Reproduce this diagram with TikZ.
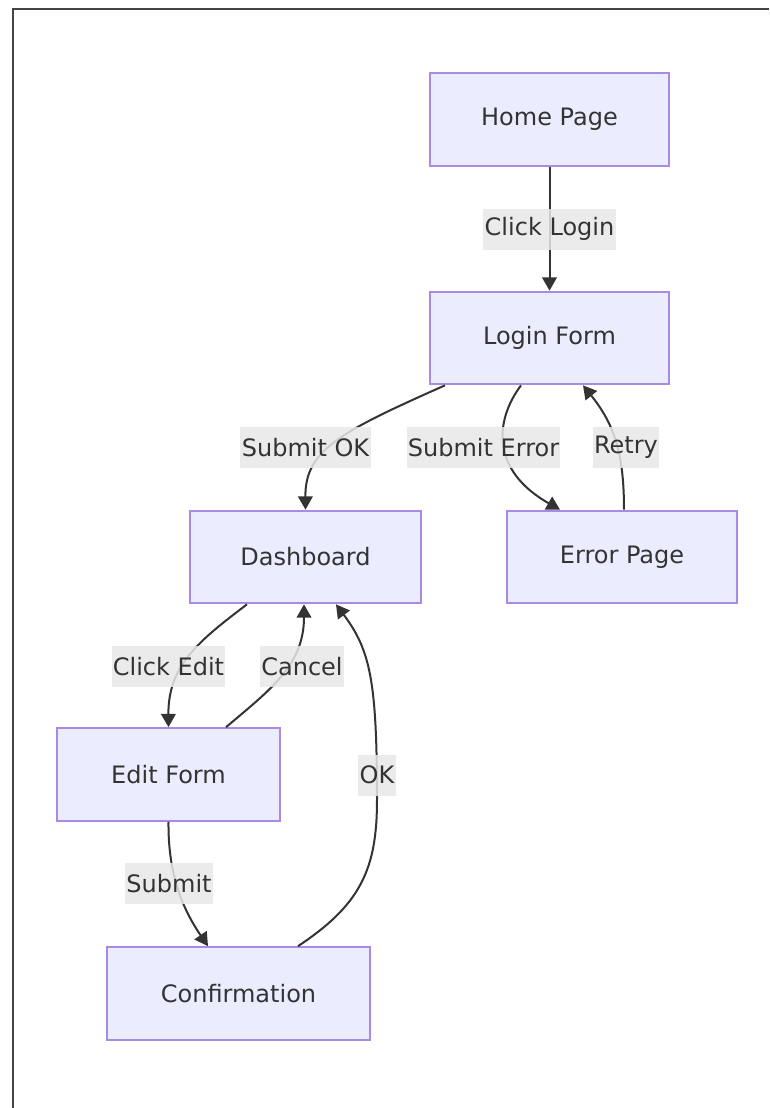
\documentclass[tikz,border=0pt]{standalone}
\usepackage{fontspec}
\setmainfont{DejaVu Sans}
\usetikzlibrary{arrows.meta,calc}
\definecolor{boxfill}{HTML}{ECECFF}
\definecolor{boxline}{HTML}{A98BE6}
\definecolor{ink}{HTML}{333333}
\definecolor{labbg}{HTML}{E8E8E8}
\definecolor{framecol}{HTML}{444444}
\begin{document}
\begin{tikzpicture}[x=0.75pt,y=-0.75pt,
  txt/.style={font=\fontsize{18}{21}\selectfont, text=ink},
  box/.style={txt, draw=boxline, fill=boxfill, line width=1.5pt, inner sep=0pt, minimum height=69.5pt},
  lab/.style={txt, fill=labbg, fill opacity=0.85, text opacity=1, inner xsep=1pt, inner ysep=0pt, minimum height=30.75pt},
  edge/.style={draw=ink, line width=1.5pt, -{Triangle[length=10pt,width=11pt]}},
  frameline/.style={draw=framecol, line width=1pt}]
\useasboundingbox (0,0) rectangle (769,1108);
\draw[frameline] (13,1108) -- (13,9) -- (769,9);

% nodes
\node[box, minimum width=239*0.75pt] (home) at (549.5,119.5) {Home Page};
\node[box, minimum width=239*0.75pt] (login) at (549.5,338) {Login Form};
\node[box, minimum width=231*0.75pt] (dash) at (305.5,557) {Dashboard};
\node[box, minimum width=230*0.75pt] (err) at (622,557) {Error Page};
\node[box, minimum width=223*0.75pt] (edit) at (168.5,774.5) {Edit Form};
\node[box, minimum width=263*0.75pt] (conf) at (238.5,993.5) {Confirmation};

% label centres
\coordinate (cLogin) at (549.5,229);
\coordinate (cSOK) at (305.5,447.5);
\coordinate (cSErr) at (483.5,447.5);
\coordinate (cRetry) at (626,447.5);
\coordinate (cEdit) at (168.5,666.5);
\coordinate (cCancel) at (302,666.5);
\coordinate (cOK) at (377,775);
\coordinate (cSubmit) at (169,883.5);

% edges
\draw[edge] (home.south) -- (login.north);
\draw[edge] ($(login.south)+(-104.5,0)$) .. controls (340,432) and (305,450) .. (dash.north);
\draw[edge] ($(login.south)+(-28.5,0)$) .. controls (495,420) and (490,470) .. ($(err.north)+(-62,0)$);
\draw[edge] ($(err.north)+(2,0)$) .. controls (624,455) and (615,425) .. ($(login.south)+(33.5,0)$);
\draw[edge] ($(dash.south)+(-58.5,0)$) .. controls (200,640) and (168,665) .. (edit.north);
\draw[edge] ($(edit.north)+(57.5,0)$) .. controls (270,690) and (304,665) .. ($(dash.south)+(-1.5,0)$);
\draw[edge] ($(conf.north)+(59.5,0)$) .. controls (360,905) and (377,870) .. (377,800)
   .. controls (377,680) and (370,650) .. ($(dash.south)+(30.5,0)$);
\draw[edge] (edit.south) .. controls (168,870) and (180,905) .. ($(conf.north)+(-30.5,0)$);

% labels
\node[lab] (lLogin) at (cLogin) {Click Login};
\node[lab] (lSOK) at (cSOK) {Submit OK};
\node[lab] (lSErr) at (cSErr) {Submit Error};
\node[lab] (lRetry) at (cRetry) {Retry};
\node[lab] (lEdit) at (cEdit) {Click Edit};
\node[lab] (lCancel) at (cCancel) {Cancel};
\node[lab] (lOK) at (cOK) {OK};
\node[lab] (lSubmit) at (cSubmit) {Submit};
\end{tikzpicture}
\end{document}
